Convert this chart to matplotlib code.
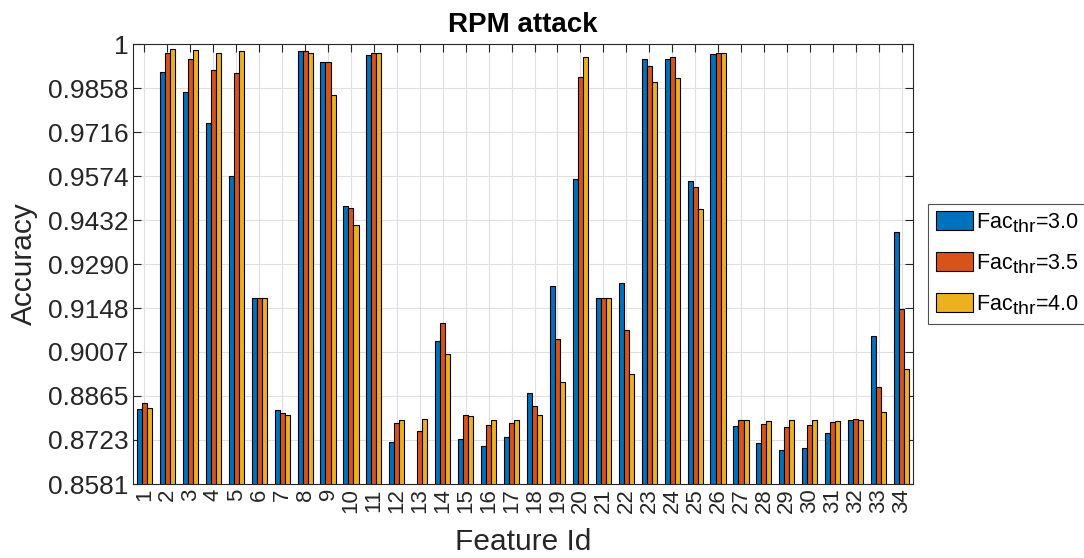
import matplotlib
matplotlib.use('Agg')
import matplotlib.pyplot as plt
import matplotlib._mathtext as mt
import numpy as np

plt.rcParams['font.family'] = ['Liberation Sans', 'DejaVu Sans']
plt.rcParams['mathtext.fontset'] = 'custom'
plt.rcParams['mathtext.rm'] = 'Liberation Sans'
plt.rcParams['mathtext.it'] = 'Liberation Sans:italic'
# MATLAB's tex subscripts are bigger and sit lower than mathtext's default
mt.SHRINK_FACTOR = 0.9
mt.FontConstantsBase.sub1 = 0.4
mt.FontConstantsBase.sub2 = 0.45

# data
features = list(range(1, 35))
fac_30 = [0.8822, 0.9911, 0.9844, 0.9745, 0.9574, 0.9181, 0.8819, 0.9976, 0.9941, 0.9478,
          0.9966, 0.8715, 0.8550, 0.9042, 0.8727, 0.8702, 0.8731, 0.8876, 0.9218, 0.9565,
          0.9182, 0.9230, 0.9951, 0.9951, 0.9557, 0.9967, 0.8769, 0.8714, 0.8692, 0.8698,
          0.8744, 0.8786, 0.9058, 0.9393]
fac_35 = [0.8843, 0.9971, 0.9951, 0.9915, 0.9905, 0.9181, 0.8809, 0.9979, 0.9941, 0.9470,
          0.9970, 0.8777, 0.8751, 0.9099, 0.8802, 0.8770, 0.8779, 0.8833, 0.9048, 0.9894,
          0.9182, 0.9079, 0.9928, 0.9957, 0.9539, 0.9970, 0.8786, 0.8773, 0.8765, 0.8771,
          0.8782, 0.8791, 0.8895, 0.9144]
fac_40 = [0.8826, 0.9983, 0.9981, 0.9970, 0.9977, 0.9181, 0.8802, 0.9970, 0.9836, 0.9415,
          0.9970, 0.8786, 0.8790, 0.8999, 0.8801, 0.8786, 0.8787, 0.8804, 0.8909, 0.9957,
          0.9182, 0.8937, 0.9879, 0.9889, 0.9468, 0.9970, 0.8786, 0.8785, 0.8786, 0.8786,
          0.8785, 0.8787, 0.8813, 0.8951]
series = [fac_30, fac_35, fac_40]
labels = [r'Fac$_{\mathrm{thr}}$=3.0', r'Fac$_{\mathrm{thr}}$=3.5', r'Fac$_{\mathrm{thr}}$=4.0']
colors = ['#0072BD', '#D95319', '#EDB120']
ytick_vals = [0.8581, 0.8723, 0.8865, 0.9007, 0.9148, 0.9290, 0.9432, 0.9574, 0.9716, 0.9858, 1.0]
ytick_labels = ['0.8581', '0.8723', '0.8865', '0.9007', '0.9148', '0.9290', '0.9432',
                '0.9574', '0.9716', '0.9858', '1']

fig = plt.figure(figsize=(10.84, 5.58), dpi=100)
ax = fig.add_axes([0.1227, 0.1326, 0.7196, 0.7885])

x = np.array(features)
w = 0.22
for i, (vals, lab, col) in enumerate(zip(series, labels, colors)):
    ax.bar(x + (i - 1) * w, vals, width=w, color=col, edgecolor='black',
           linewidth=0.8, label=lab)

ax.set_xlim(0.5, 34.5)
ax.set_ylim(0.8581, 1.0)
ax.set_xticks(x)
ax.set_xticklabels([str(f) for f in features], rotation=90, fontsize=16)
ax.set_yticks(ytick_vals)
ax.set_yticklabels(ytick_labels, fontsize=19)

ax.set_axisbelow(True)
ax.grid(True, color='#dfdfdf', linewidth=0.8)
ax.tick_params(direction='in', length=5.5, width=0.8, top=True, right=True,
               colors='#262626', pad=3)
for s in ax.spines.values():
    s.set_color('#262626')
    s.set_linewidth(0.8)

ax.set_title('RPM attack', fontsize=20, fontweight='bold', pad=9)
ax.set_xlabel('Feature Id', fontsize=21.5, color='#262626', labelpad=11)
ax.set_ylabel('Accuracy', fontsize=21.5, color='#262626', labelpad=7)

leg = fig.legend(loc='center left', bbox_to_anchor=(928 / 1084, 1 - 264 / 558),
                 fontsize=15.5, frameon=True, fancybox=False, borderaxespad=0,
                 handlelength=1.75, handleheight=1.0, handletextpad=0.12,
                 labelspacing=0.8, borderpad=0.35)
leg.get_frame().set_edgecolor('#262626')
leg.get_frame().set_linewidth(0.8)

fig.savefig('out.png', dpi=100)
